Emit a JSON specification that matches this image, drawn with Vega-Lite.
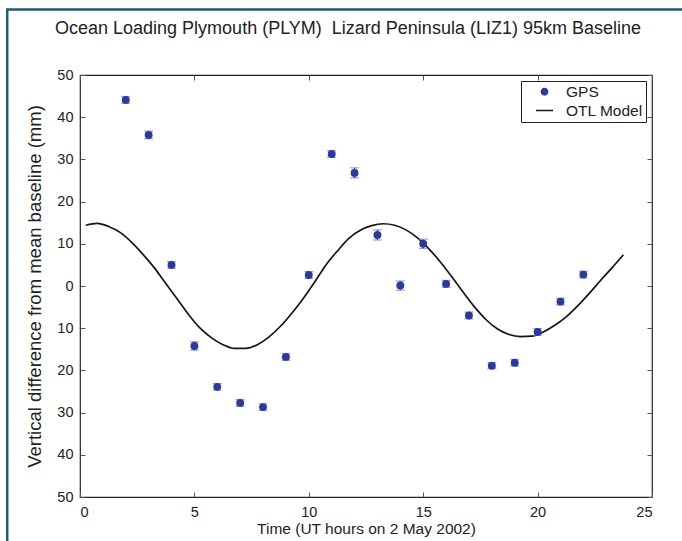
{
  "$schema": "https://vega.github.io/schema/vega-lite/v6.json",
  "width": 572,
  "height": 422,
  "autosize": {"type": "none"},
  "padding": {"left": 80, "top": 75, "right": 30, "bottom": 44},
  "background": "white",
  "config": {
    "font": "Liberation Sans",
    "view": {"stroke": "#222222", "strokeWidth": 1.2},
    "axis": {"grid": false, "labelFont": "Liberation Sans", "titleFont": "Liberation Sans", "labelFontSize": 14.5, "titleFontSize": 15.5, "titleFontWeight": "normal", "labelColor": "#222222", "titleColor": "#222222", "domainColor": "#222222", "tickColor": "#555555", "tickSize": -5, "domainWidth": 1.2}
  },
  "title": {"text": "Ocean Loading Plymouth (PLYM)\u00a0\u00a0Lizard Peninsula (LIZ1) 95km Baseline", "fontSize": 18, "fontWeight": "normal", "font": "Liberation Sans", "color": "#222222", "frame": "group", "anchor": "middle", "dx": -18, "baseline": "alphabetic", "offset": -43.5},
  "datasets": {
    "gps": [
      {"t": 2, "v": 44.1, "err": 0.8, "series": "GPS"},
      {"t": 3, "v": 35.8, "err": 0.9, "series": "GPS"},
      {"t": 4, "v": 5.0, "err": 0.8, "series": "GPS"},
      {"t": 5, "v": -14.2, "err": 1.0, "series": "GPS"},
      {"t": 6, "v": -23.9, "err": 0.8, "series": "GPS"},
      {"t": 7, "v": -27.7, "err": 0.8, "series": "GPS"},
      {"t": 8, "v": -28.7, "err": 0.8, "series": "GPS"},
      {"t": 9, "v": -16.8, "err": 0.8, "series": "GPS"},
      {"t": 10, "v": 2.6, "err": 0.8, "series": "GPS"},
      {"t": 11, "v": 31.3, "err": 0.8, "series": "GPS"},
      {"t": 12, "v": 26.8, "err": 1.2, "series": "GPS"},
      {"t": 13, "v": 12.1, "err": 1.2, "series": "GPS"},
      {"t": 14, "v": 0.1, "err": 1.1, "series": "GPS"},
      {"t": 15, "v": 10.0, "err": 1.1, "series": "GPS"},
      {"t": 16, "v": 0.5, "err": 0.8, "series": "GPS"},
      {"t": 17, "v": -7.0, "err": 0.8, "series": "GPS"},
      {"t": 18, "v": -18.9, "err": 0.7, "series": "GPS"},
      {"t": 19, "v": -18.2, "err": 0.8, "series": "GPS"},
      {"t": 20, "v": -10.9, "err": 0.8, "series": "GPS"},
      {"t": 21, "v": -3.7, "err": 0.8, "series": "GPS"},
      {"t": 22, "v": 2.7, "err": 0.8, "series": "GPS"}
    ],
    "model": [
      {"t": 0.25, "v": 14.4, "series": "OTL Model"},
      {"t": 0.75, "v": 14.85, "series": "OTL Model"},
      {"t": 1.25, "v": 14.1, "series": "OTL Model"},
      {"t": 1.75, "v": 12.7, "series": "OTL Model"},
      {"t": 2.25, "v": 10.4, "series": "OTL Model"},
      {"t": 2.75, "v": 7.5, "series": "OTL Model"},
      {"t": 3.25, "v": 4.3, "series": "OTL Model"},
      {"t": 3.75, "v": 0.6, "series": "OTL Model"},
      {"t": 4.25, "v": -3.1, "series": "OTL Model"},
      {"t": 4.75, "v": -6.8, "series": "OTL Model"},
      {"t": 5.25, "v": -10.0, "series": "OTL Model"},
      {"t": 5.75, "v": -12.3, "series": "OTL Model"},
      {"t": 6.25, "v": -13.9, "series": "OTL Model"},
      {"t": 6.75, "v": -14.8, "series": "OTL Model"},
      {"t": 7.25, "v": -14.8, "series": "OTL Model"},
      {"t": 7.75, "v": -13.9, "series": "OTL Model"},
      {"t": 8.25, "v": -12.1, "series": "OTL Model"},
      {"t": 8.75, "v": -9.6, "series": "OTL Model"},
      {"t": 9.25, "v": -6.5, "series": "OTL Model"},
      {"t": 9.75, "v": -3.0, "series": "OTL Model"},
      {"t": 10.25, "v": 0.9, "series": "OTL Model"},
      {"t": 10.75, "v": 5.0, "series": "OTL Model"},
      {"t": 11.25, "v": 8.3, "series": "OTL Model"},
      {"t": 11.75, "v": 11.3, "series": "OTL Model"},
      {"t": 12.25, "v": 13.2, "series": "OTL Model"},
      {"t": 12.75, "v": 14.3, "series": "OTL Model"},
      {"t": 13.25, "v": 14.75, "series": "OTL Model"},
      {"t": 13.75, "v": 14.4, "series": "OTL Model"},
      {"t": 14.25, "v": 13.3, "series": "OTL Model"},
      {"t": 14.75, "v": 11.4, "series": "OTL Model"},
      {"t": 15.25, "v": 8.8, "series": "OTL Model"},
      {"t": 15.75, "v": 5.7, "series": "OTL Model"},
      {"t": 16.25, "v": 2.2, "series": "OTL Model"},
      {"t": 16.75, "v": -1.5, "series": "OTL Model"},
      {"t": 17.25, "v": -5.0, "series": "OTL Model"},
      {"t": 17.75, "v": -8.0, "series": "OTL Model"},
      {"t": 18.25, "v": -10.2, "series": "OTL Model"},
      {"t": 18.75, "v": -11.5, "series": "OTL Model"},
      {"t": 19.25, "v": -12.0, "series": "OTL Model"},
      {"t": 19.75, "v": -11.9, "series": "OTL Model"},
      {"t": 20.25, "v": -10.9, "series": "OTL Model"},
      {"t": 20.75, "v": -9.3, "series": "OTL Model"},
      {"t": 21.25, "v": -7.3, "series": "OTL Model"},
      {"t": 21.75, "v": -4.7, "series": "OTL Model"},
      {"t": 22.25, "v": -1.8, "series": "OTL Model"},
      {"t": 22.75, "v": 1.3, "series": "OTL Model"},
      {"t": 23.25, "v": 4.3, "series": "OTL Model"},
      {"t": 23.75, "v": 7.4, "series": "OTL Model"}
    ]
  },
  "resolve": {"axis": {"x": "independent", "y": "independent"}},
  "layer": [
    {
      "data": {"values": [{}]},
      "mark": {"type": "rect", "fill": null, "fillOpacity": 0, "stroke": "#1B5E6B", "strokeWidth": 2.5, "clip": false},
      "encoding": {
        "x": {"datum": -3.18, "type": "quantitative", "scale": {"domain": [0, 25], "nice": false, "zero": false}, "axis": {"orient": "top", "labels": false, "title": null, "values": [0, 5, 10, 15, 20, 25], "domain": false}},
        "x2": {"datum": 40},
        "y": {"datum": 65.5, "type": "quantitative", "scale": {"domain": [-50, 50], "nice": false}, "axis": {"orient": "right", "labels": false, "title": null, "values": [-50, -40, -30, -20, -10, 0, 10, 20, 30, 40, 50], "domain": false}},
        "y2": {"datum": -120}
      }
    },
    {
      "data": {"name": "model"},
      "mark": {"type": "line", "strokeWidth": 1.7, "interpolate": "monotone"},
      "encoding": {
        "x": {"field": "t", "type": "quantitative", "axis": null},
        "y": {"field": "v", "type": "quantitative", "axis": null},
        "color": {"field": "series", "type": "nominal"}
      }
    },
    {
      "data": {"name": "gps"},
      "transform": [
        {"calculate": "datum.v - datum.err", "as": "lo"},
        {"calculate": "datum.v + datum.err", "as": "hi"}
      ],
      "mark": {"type": "errorbar", "ticks": {"size": 9, "color": "#7B83C4", "thickness": 1.3}, "rule": {"color": "#3A45A0", "strokeWidth": 1.2}},
      "encoding": {
        "x": {"field": "t", "type": "quantitative", "axis": null},
        "y": {"field": "lo", "type": "quantitative", "axis": null},
        "y2": {"field": "hi"}
      }
    },
    {
      "data": {"name": "gps"},
      "mark": {"type": "point", "filled": true, "opacity": 1, "strokeWidth": 1.6},
      "encoding": {
        "x": {"field": "t", "type": "quantitative", "title": "Time (UT hours on 2 May 2002)", "axis": {"orient": "bottom", "values": [0, 5, 10, 15, 20, 25], "labelPadding": 13.5, "titlePadding": 2.5, "domain": false}},
        "y": {"field": "v", "type": "quantitative", "title": "Vertical difference from mean baseline (mm)", "axis": {"orient": "left", "values": [-50, -40, -30, -20, -10, 0, 10, 20, 30, 40, 50], "labelExpr": "'' + abs(datum.value)", "labelPadding": 12, "titlePadding": 12, "titleFontSize": 18.5, "domain": false}},
        "color": {"field": "series", "type": "nominal", "scale": {"domain": ["GPS", "OTL Model"], "range": ["#2E3A9A", "#151515"]}, "legend": {"title": null, "orient": "top-right", "offset": 6, "padding": 3, "strokeColor": "#222222", "fillColor": "white", "labelFont": "Liberation Sans", "labelFontSize": 15.5, "labelColor": "#222222", "rowPadding": 0, "labelOffset": 12, "symbolOffset": 11}},
        "stroke": {"field": "series", "type": "nominal", "scale": {"domain": ["GPS", "OTL Model"], "range": ["#2E3A9A", "#151515"]}, "legend": {"title": null}},
        "shape": {"field": "series", "type": "nominal", "scale": {"domain": ["GPS", "OTL Model"], "range": ["circle", "stroke"]}, "legend": {"title": null}},
        "size": {"field": "series", "type": "nominal", "scale": {"domain": ["GPS", "OTL Model"], "range": [40, 289]}, "legend": {"title": null}}
      }
    }
  ]
}
